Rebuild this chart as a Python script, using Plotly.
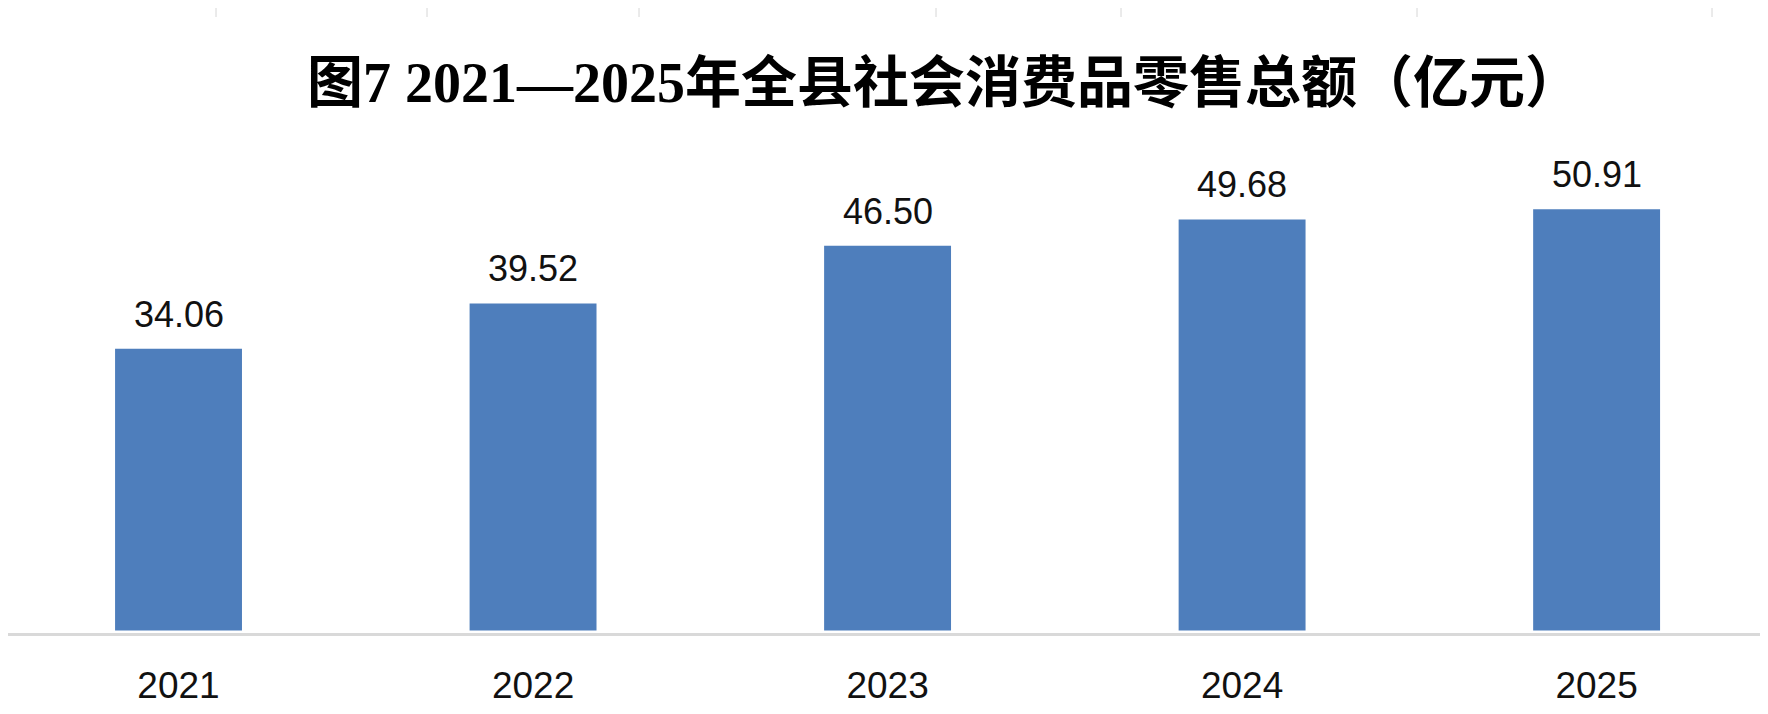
import plotly.graph_objs as go

# 2021-2025 retail sales of consumer goods (100 million yuan)
years = ['2021', '2022', '2023', '2024', '2025']
sales = [34.06, 39.52, 46.50, 49.68, 50.91]
value_labels = ['34.06', '39.52', '46.50', '49.68', '50.91']

W, H = 1768, 714
BAR_COLOR = '#4e7ebc'

fig = go.Figure()
fig.add_trace(go.Bar(x=years, y=sales, marker=dict(color=BAR_COLOR, line=dict(width=0)),
                     hoverinfo='x+y', showlegend=False))

# value labels sit well above each bar (x given as category index)
for i, (v, lab) in enumerate(zip(sales, value_labels)):
    fig.add_annotation(x=i, y=v, xref='x', yref='y', text=lab, showarrow=False,
                       yanchor='bottom', yshift=12,
                       font=dict(family='Liberation Sans, Arial', size=36, color='#111111'))

# faint cell borders peeking in at the top edge of the image
for px in [208, 419, 631, 928, 1113, 1409, 1704]:
    fig.add_shape(type='line', xref='paper', yref='paper', x0=px / W, x1=px / W,
                  y0=1 + 126 / 499, y1=1 + (126 - 9) / 499, line=dict(color='#d6d6d6', width=1))

fig.update_layout(
    width=W, height=H,
    margin=dict(l=0, r=0, t=126, b=89),
    paper_bgcolor='white', plot_bgcolor='white',
    bargap=0.642,
    title=dict(text='<b>图7 2021—2025年全县社会消费品零售总额（亿元）</b>',
               x=936 / W, xanchor='center', y=1 - 74 / H, yanchor='middle',
               font=dict(family='Liberation Serif, Noto Sans CJK SC', size=56, color='black')),
)
fig.update_xaxes(type='category', range=[-0.481, 4.506], showline=True, linecolor='#d9d9d9',
                 linewidth=3, ticks='', showgrid=False, ticklabelstandoff=18,
                 tickfont=dict(family='Liberation Sans, Arial', size=37, color='#111111'))
fig.update_yaxes(range=[-0.3, 60], showticklabels=False, ticks='', showline=False,
                 showgrid=False, zeroline=False)

fig.write_html("out.html")
